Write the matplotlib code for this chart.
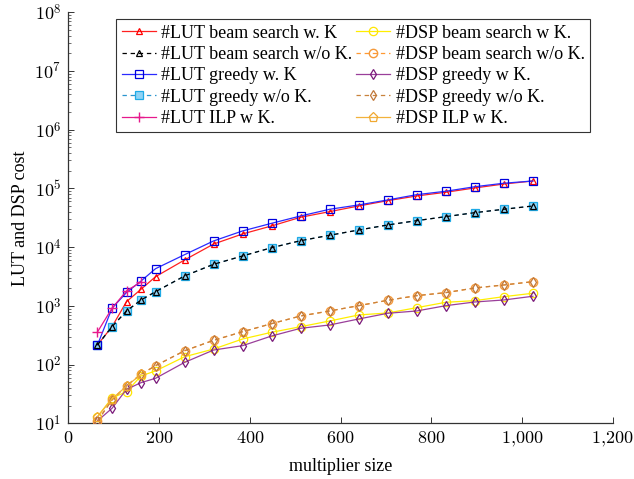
import matplotlib
matplotlib.use("Agg")
import matplotlib.pyplot as plt
from matplotlib.ticker import FixedLocator, FixedFormatter, LogLocator, NullFormatter, FuncFormatter
import numpy as np

plt.rcParams['font.family'] = ['Liberation Serif', 'DejaVu Serif']
plt.rcParams['mathtext.fontset'] = 'cm'

# multiplier sizes
sizes = [64, 96, 128, 160, 192, 256, 320, 384, 448, 512, 576, 640, 704, 768, 832, 896, 960, 1024]
ilp_sizes = [64, 96, 128, 160]

# LUT cost
lut_beam_k = [216, 442, 1180, 1920, 3140, 6050, 11300, 16800, 23000, 32300, 40300, 50300, 62000, 74500, 86100, 102000, 119000, 134000]
lut_beam_nok = [216, 442, 819, 1260, 1745, 3230, 5110, 7080, 9800, 12900, 15950, 19600, 23900, 28300, 33100, 38700, 44200, 50300]
lut_greedy_k = [216, 910, 1690, 2650, 4300, 7450, 12760, 18900, 25500, 34000, 44200, 52400, 63700, 78400, 89600, 107000, 122700, 134000]
lut_greedy_nok = [216, 442, 819, 1260, 1745, 3230, 5110, 7080, 9800, 12900, 15950, 19600, 23900, 28300, 33100, 38700, 44200, 50300]
lut_ilp_k = [360, 910, 1800, 2550]

# DSP cost
dsp_beam_k = [13, 27, 34.5, 64, 78, 136, 184, 273, 355, 442, 553, 700, 757, 932, 1151, 1227, 1435, 1640]
dsp_beam_nok = [11, 25, 43.7, 68.4, 95.7, 172, 259, 363, 498, 673, 819, 1008, 1245, 1493, 1680, 2018, 2270, 2583]
dsp_greedy_k = [11, 18, 37.9, 49.2, 58.4, 109, 177, 210, 307, 415, 473, 598, 748, 819, 1008, 1165, 1260, 1458]
dsp_greedy_nok = [11, 25, 43.7, 68.4, 95.7, 172, 259, 363, 498, 673, 819, 1008, 1245, 1493, 1680, 2018, 2270, 2583]
dsp_ilp_k = [13, 26, 43, 68]

xticks = [0, 200, 400, 600, 800, 1000, 1200]
xtick_labels = ['$0$', '$200$', '$400$', '$600$', '$800$', '$1{,}000$', '$1{,}200$']
yticks = [1e1, 1e2, 1e3, 1e4, 1e5, 1e6, 1e7, 1e8]

fig = plt.figure(figsize=(6.34, 4.79), dpi=100)
ax = fig.add_axes([0.108, 0.1163, 0.8584, 0.858])

lw = 0.9
dash = (0, (3.5, 3))

# LUT series
ax.plot(sizes, lut_beam_k, color='#ff2020', lw=lw, marker='^', ms=5, mfc='none', mec='#ff0000', mew=0.9,
        label='#LUT beam search w. K', zorder=3)
ax.plot(sizes, lut_greedy_nok, color='#2a95cf', lw=lw, ls=dash, marker='s', ms=5.5, mfc='#8fd3f5', mec='#1eaae6', mew=0.9,
        label='#LUT greedy w/o K.', zorder=3)
ax.plot(sizes, lut_beam_nok, color='black', lw=lw, ls=dash, marker='^', ms=4.5, mfc='none', mec='black', mew=0.9,
        label='#LUT beam search w/o K.', zorder=4)
ax.plot(sizes, lut_greedy_k, color='#2a2aff', lw=lw, marker='s', ms=6, mfc='none', mec='#0000dd', mew=0.9,
        label='#LUT greedy w. K', zorder=3)
ax.plot(ilp_sizes, lut_ilp_k, color='#e6198c', lw=lw, marker='+', ms=7, mec='#e6198c', mew=1.0,
        label='#LUT ILP w K.', zorder=3)

# DSP series
ax.plot(sizes, dsp_beam_k, color='#ffee00', lw=lw, marker='o', ms=6, mfc='none', mec='#ffe600', mew=0.9,
        label='#DSP beam search w K.', zorder=3)
ax.plot(sizes, dsp_beam_nok, color='#ff9933', lw=lw, ls=dash, marker='o', ms=6, mfc='none', mec='#f59a3a', mew=1.0,
        label='#DSP beam search w/o K.', zorder=3)
ax.plot(sizes, dsp_greedy_k, color='#9a3f9a', lw=lw, marker='d', ms=5.5, mfc='none', mec='#7a1a7a', mew=0.9,
        label='#DSP greedy w K.', zorder=3)
ax.plot(sizes, dsp_greedy_nok, color='#c8823c', lw=lw, ls=dash, marker='d', ms=5.5, mfc='none', mec='#c0783a', mew=0.9,
        label='#DSP greedy w/o K.', zorder=3)
ax.plot(ilp_sizes, dsp_ilp_k, color='#f2b23c', lw=lw, marker='p', ms=6.5, mfc='none', mec='#f0a830', mew=0.9,
        label='#DSP ILP w K.', zorder=3)

ax.set_yscale('log')
ax.set_ylim(10, 1e8)
ax.set_xlim(0, 1200)

ax.xaxis.set_major_locator(FixedLocator(xticks))
ax.xaxis.set_major_formatter(FixedFormatter(xtick_labels))
ax.yaxis.set_major_locator(FixedLocator(yticks))
ax.yaxis.set_major_formatter(FuncFormatter(lambda v, p: '$10^{%d}$' % round(np.log10(v))))
ax.yaxis.set_minor_locator(LogLocator(base=10, subs=range(2, 10), numticks=20))
ax.yaxis.set_minor_formatter(NullFormatter())

ax.spines['top'].set_visible(False)
ax.spines['right'].set_visible(False)
for s in ['left', 'bottom']:
    ax.spines[s].set_linewidth(0.9)
    ax.spines[s].set_color('#333333')

ax.tick_params(axis='both', which='major', direction='in', length=4, width=0.7, labelsize=13, pad=5, colors='#333333',
               labelcolor='black')
ax.tick_params(axis='y', which='minor', direction='in', length=2.5, width=0.6, colors='#555555')

ax.set_xlabel('multiplier size', fontsize=13, labelpad=6)
ax.set_ylabel('LUT and DSP cost', fontsize=13, labelpad=4)

# legend in LUT column / DSP column order
handles, labels = ax.get_legend_handles_labels()
order = ['#LUT beam search w. K', '#LUT beam search w/o K.', '#LUT greedy w. K', '#LUT greedy w/o K.',
         '#LUT ILP w K.', '#DSP beam search w K.', '#DSP beam search w/o K.', '#DSP greedy w K.',
         '#DSP greedy w/o K.', '#DSP ILP w K.']
hl = dict(zip(labels, handles))
leg = ax.legend([hl[k] for k in order], order, ncol=2, loc='upper center', bbox_to_anchor=(0.523, 0.983),
                fontsize=13, numpoints=1, handlelength=1.9, handletextpad=0.3, columnspacing=0.2,
                labelspacing=0.24, borderpad=0.3, borderaxespad=0, fancybox=False, framealpha=1,
                edgecolor='#333333')
leg.get_frame().set_linewidth(0.8)

fig.savefig('out.png', dpi=100)
